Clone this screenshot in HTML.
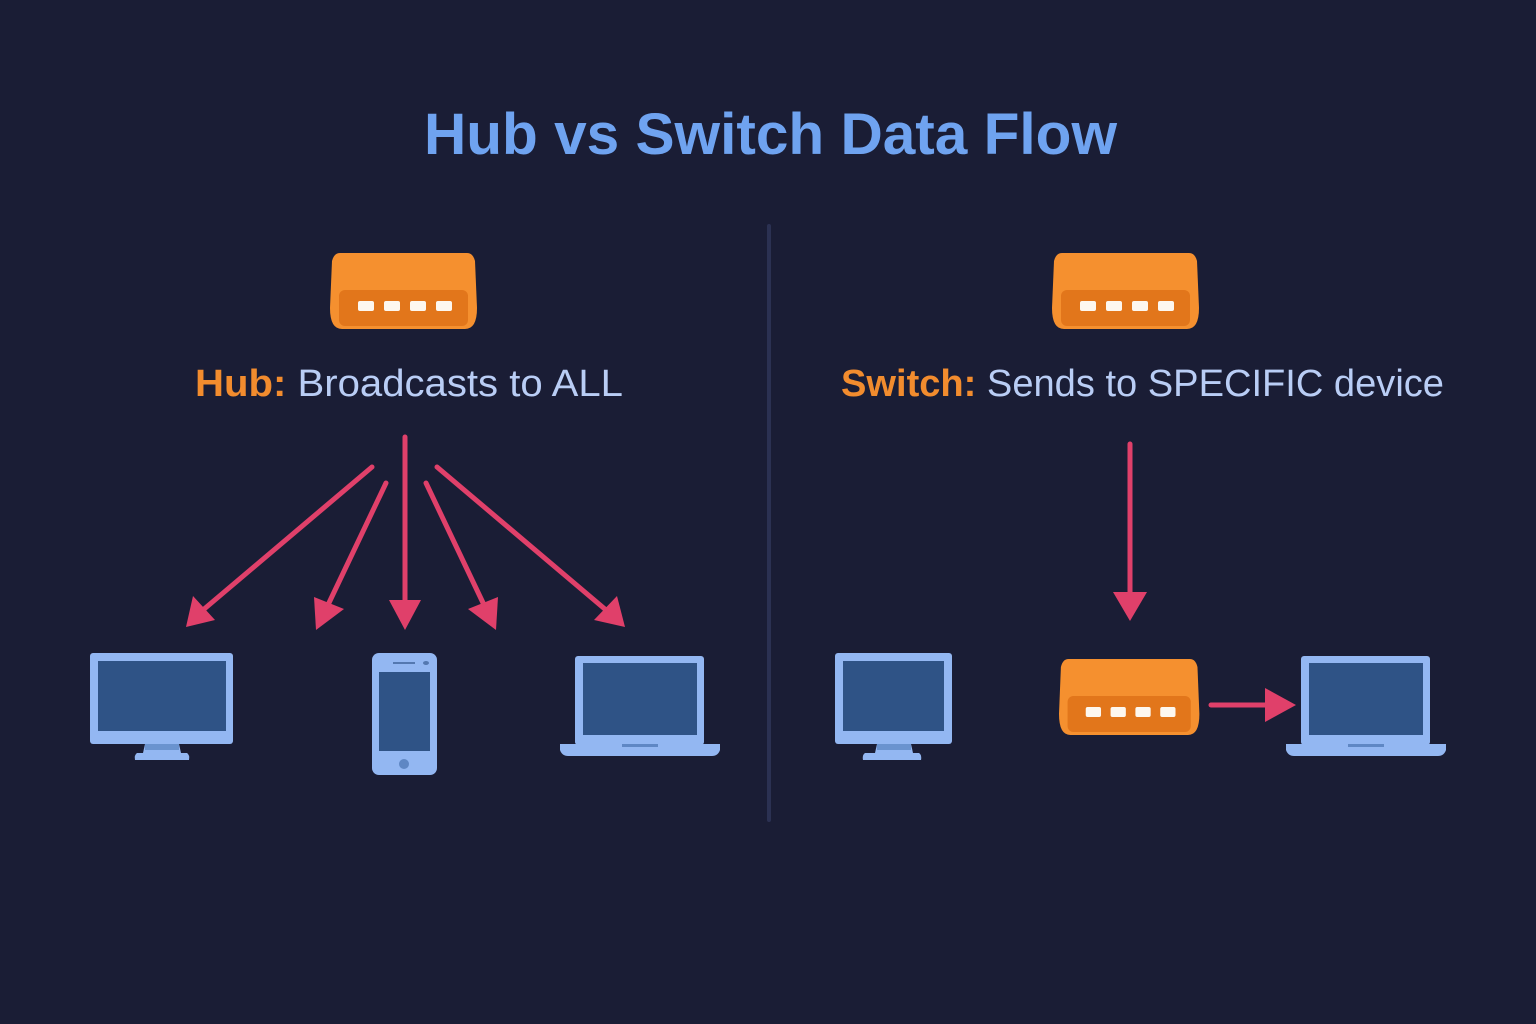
<!DOCTYPE html>
<html><head><meta charset="utf-8"><style>
html,body{margin:0;padding:0;background:#1a1d35;}
svg{display:block}
</style></head><body>
<svg width="1536" height="1024" viewBox="0 0 1536 1024" xmlns="http://www.w3.org/2000/svg">
<defs>
<g id="hub">
<path d="M10,0 H137 Q143,0 145,8 L147,55 Q147,76 135,76 H12 Q0,76 0,55 L2,8 Q4,0 10,0 Z" fill="#f5902f"/>
<rect x="9" y="37" width="129" height="36" rx="6" fill="#e2761b"/>
<rect x="28" y="48" width="16" height="10" rx="2" fill="#fdf7ef"/>
<rect x="54" y="48" width="16" height="10" rx="2" fill="#fdf7ef"/>
<rect x="80" y="48" width="16" height="10" rx="2" fill="#fdf7ef"/>
<rect x="106" y="48" width="16" height="10" rx="2" fill="#fdf7ef"/>
</g>
</defs>
<rect width="1536" height="1024" fill="#1a1d35"/>
<text x="424" y="154" textLength="693" lengthAdjust="spacingAndGlyphs" font-family="Liberation Sans, sans-serif" font-weight="bold" font-size="58" fill="#6fa3f0">Hub vs Switch Data Flow</text>
<line x1="769" y1="226" x2="769" y2="820" stroke="#2b3152" stroke-width="4" stroke-linecap="round"/>

<use href="#hub" x="330" y="253"/>
<use href="#hub" x="1052" y="253"/>
<use href="#hub" transform="translate(1059 659) scale(0.955 1)"/>

<text x="195" y="396" textLength="428" lengthAdjust="spacingAndGlyphs" font-family="Liberation Sans, sans-serif" font-size="38" fill="#b9cdf5"><tspan font-weight="bold" fill="#f28c2e">Hub:</tspan> Broadcasts to ALL</text>
<text x="841" y="396" textLength="603" lengthAdjust="spacingAndGlyphs" font-family="Liberation Sans, sans-serif" font-size="38" fill="#b9cdf5"><tspan font-weight="bold" fill="#f28c2e">Switch:</tspan> Sends to SPECIFIC device</text>

<g stroke="#e0406a" stroke-width="5" stroke-linecap="round" fill="#e0406a">
<line x1="405" y1="437" x2="405" y2="605"/>
<polygon points="389,600 421,600 405,630" stroke="none"/>
<line x1="372" y1="467" x2="203" y2="610"/>
<polygon points="186,627 193,596 215,620" stroke="none"/>
<line x1="386" y1="483" x2="327" y2="607"/>
<polygon points="316,630 314,597 344,609" stroke="none"/>
<line x1="426" y1="483" x2="485" y2="607"/>
<polygon points="496,630 468,609 498,597" stroke="none"/>
<line x1="437" y1="467" x2="606" y2="610"/>
<polygon points="625,627 594,620 617,596" stroke="none"/>
<line x1="1130" y1="444" x2="1130" y2="596"/>
<polygon points="1113,592 1147,592 1130,621" stroke="none"/>
<line x1="1211" y1="705" x2="1268" y2="705"/>
<polygon points="1265,688 1296,705 1265,722" stroke="none"/>
</g>

<rect x="90" y="653" width="143" height="91" rx="3" fill="#93b7f2"/>
<rect x="98" y="661" width="128" height="70" fill="#2f5386"/>
<path d="M145,744 H179 L181,753 H187 Q190,755 189,760 H135 Q134,755 137,753 H143 Z" fill="#93b7f2"/>
<rect x="145" y="744" width="34" height="6" fill="#6a93cf"/>
<rect x="372" y="653" width="65" height="122" rx="7" fill="#93b7f2"/>
<rect x="379" y="672" width="51" height="79" fill="#2f5386"/>
<rect x="393" y="662" width="22" height="2" fill="#5478b0"/>
<ellipse cx="426" cy="663" rx="3" ry="2" fill="#5478b0"/>
<circle cx="404" cy="764" r="5" fill="#5f87c4"/>
<rect x="575" y="656" width="129" height="89" rx="3" fill="#93b7f2"/>
<rect x="583" y="663" width="114" height="72" fill="#2f5386"/>
<path d="M560,744 H720 V750 Q718,756 712,756 H568 Q562,756 560,750 Z" fill="#93b7f2"/>
<rect x="622" y="744" width="36" height="3" fill="#5f87c4"/>

<rect x="835" y="653" width="117" height="91" rx="3" fill="#93b7f2"/>
<rect x="843" y="661" width="101" height="70" fill="#2f5386"/>
<path d="M877,744 H911 L913,753 H919 Q922,755 921,760 H863 Q862,755 865,753 H875 Z" fill="#93b7f2"/>
<rect x="877" y="744" width="34" height="6" fill="#6a93cf"/>
<rect x="1301" y="656" width="129" height="89" rx="3" fill="#93b7f2"/>
<rect x="1309" y="663" width="114" height="72" fill="#2f5386"/>
<path d="M1286,744 H1446 V750 Q1444,756 1438,756 H1294 Q1288,756 1286,750 Z" fill="#93b7f2"/>
<rect x="1348" y="744" width="36" height="3" fill="#5f87c4"/>
</svg>
</body></html>
